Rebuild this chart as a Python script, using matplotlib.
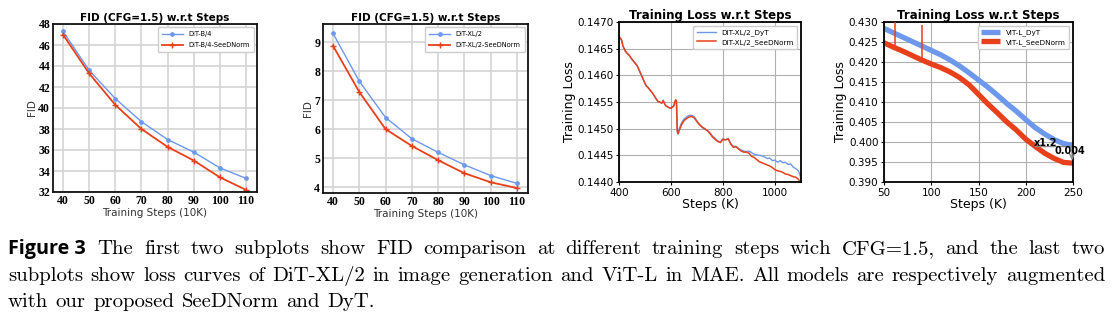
import matplotlib
matplotlib.use('Agg')
import matplotlib.pyplot as plt

# ---- data ----
steps_fid = [40, 50, 60, 70, 80, 90, 100, 110]
fid_b4 = [47.3, 43.6, 40.9, 38.7, 37.0, 35.8, 34.3, 33.3]
fid_b4_seed = [47.0, 43.3, 40.3, 38.0, 36.3, 35.0, 33.4, 32.2]
fid_xl2 = [9.3, 7.65, 6.4, 5.67, 5.2, 4.77, 4.4, 4.13]
fid_xl2_seed = [8.87, 7.28, 6.0, 5.42, 4.93, 4.48, 4.17, 3.97]

# DiT-XL/2 training loss
steps_dit = [400, 405, 410, 415, 420, 425, 430, 440, 450, 460, 470, 480, 490, 500, 505, 510,
             520, 530, 540, 550, 560, 565, 570, 575, 580, 590, 600, 605, 610, 615, 618, 621,
             624, 627, 632, 640, 650, 660, 670, 680, 690, 700, 710, 720, 730, 740, 750, 760,
             770, 775, 780, 790, 800, 810, 820, 830, 840, 850, 860, 870, 880, 890, 900, 910,
             920, 930, 940, 950, 960, 970, 980, 990, 1000, 1010, 1020, 1030, 1040, 1050, 1060,
             1070, 1080, 1090, 1095, 1100]
loss_dit_seed = [0.14672, 0.14670, 0.14666, 0.14655, 0.14650, 0.14645, 0.14642, 0.14637,
                 0.14630, 0.14624, 0.14618, 0.14607, 0.14596, 0.14585, 0.14580, 0.14578,
                 0.14572, 0.14566, 0.14558, 0.14551, 0.14549, 0.14548, 0.14553, 0.14547,
                 0.14543, 0.14540, 0.14538, 0.14541, 0.14542, 0.14550, 0.14554, 0.14552,
                 0.14495, 0.14490, 0.14497, 0.14507, 0.14515, 0.14519, 0.14522, 0.14523,
                 0.14520, 0.14513, 0.14507, 0.14503, 0.14500, 0.14496, 0.14491, 0.14484,
                 0.14480, 0.14478, 0.14476, 0.14474, 0.14480, 0.14479, 0.14481, 0.14471,
                 0.14465, 0.14466, 0.14462, 0.14458, 0.14456, 0.14456, 0.14454, 0.14448,
                 0.14446, 0.14442, 0.14438, 0.14436, 0.14434, 0.14432, 0.14430, 0.14427,
                 0.14423, 0.14421, 0.14420, 0.14418, 0.14415, 0.14414, 0.14412, 0.14410,
                 0.14409, 0.14405, 0.14402, 0.14399]
loss_dit_dyt = [0.14672, 0.14670, 0.14666, 0.14655, 0.14650, 0.14645, 0.14642, 0.14637,
                0.14630, 0.14624, 0.14618, 0.14607, 0.14596, 0.14585, 0.14580, 0.14578,
                0.14572, 0.14566, 0.14558, 0.14551, 0.14549, 0.14548, 0.14553, 0.14547,
                0.14543, 0.14540, 0.14538, 0.14541, 0.14542, 0.14550, 0.14554, 0.14552,
                0.14497, 0.14493, 0.14500, 0.14510, 0.14518, 0.14522, 0.14525, 0.14525,
                0.14522, 0.14514, 0.14508, 0.14502, 0.14499, 0.14497, 0.14492, 0.14486,
                0.14482, 0.14479, 0.14477, 0.14475, 0.14481, 0.14479, 0.14482, 0.14472,
                0.14467, 0.14467, 0.14463, 0.14460, 0.14458, 0.14457, 0.14458, 0.14455,
                0.14452, 0.14451, 0.14450, 0.14449, 0.14447, 0.14444, 0.14445, 0.14440,
                0.14441, 0.14437, 0.14440, 0.14436, 0.14437, 0.14433, 0.14434, 0.14428,
                0.14425, 0.14421, 0.14415, 0.14406]

# ViT-L (MAE) training loss
steps_vit = [50, 60, 70, 80, 90, 100, 110, 120, 130, 140, 150, 160, 170, 180, 190, 200,
             210, 220, 230, 240, 250]
loss_vit_dyt = [0.4284, 0.4273, 0.4262, 0.4251, 0.4240, 0.4229, 0.4218, 0.4205, 0.4190,
                0.4173, 0.4155, 0.4137, 0.4117, 0.4096, 0.4077, 0.4056, 0.4036, 0.4020,
                0.4006, 0.3996, 0.3991]
loss_vit_seed = [0.4248, 0.4237, 0.4227, 0.4216, 0.4205, 0.4195, 0.4186, 0.4175, 0.4161,
                 0.4143, 0.4119, 0.4095, 0.4073, 0.4050, 0.4030, 0.4007, 0.3989, 0.3972,
                 0.3959, 0.3949, 0.3947]
spike_steps = [62, 90]
spike_low = [0.4235, 0.4203]
spike_high = [0.4310, 0.4293]

caption_lines = [
    "The first two subplots show FID comparison at different training steps wich CFG=1.5, and the last two",
    "subplots show loss curves of DiT-XL/2 in image generation and ViT-L in MAE. All models are respectively augmented",
    "with our proposed SeeDNorm and DyT.",
]

BLUE = '#6d98ec'
RED = '#e8401a'
W, H = 1114, 328

fig = plt.figure(figsize=(W / 100, H / 100), dpi=100)


def rect(l, t, r, b):
    return [l / W, 1 - b / H, (r - l) / W, (b - t) / H]


def fid_panel(box, base, seed, names, ylim, yticks):
    ax = fig.add_axes(box)
    ax.plot(steps_fid, base, color=BLUE, marker='o', ms=2.4, lw=1.0, label=names[0])
    ax.plot(steps_fid, seed, color=RED, marker='+', ms=5, mew=1.0, lw=1.3, label=names[1])
    ax.set_xlim(36.2, 114.2)
    ax.set_ylim(ylim)
    ax.set_xticks(steps_fid)
    ax.set_yticks(yticks)
    ax.grid(True, color='#d4d4d4', lw=1.2)
    ax.set_axisbelow(True)
    for s in ax.spines.values():
        s.set_color('#111111')
        s.set_linewidth(1.3)
    ax.tick_params(length=0, pad=2)
    for lab in ax.get_xticklabels() + ax.get_yticklabels():
        lab.set_fontfamily('Liberation Serif')
        lab.set_fontweight('bold')
        lab.set_fontsize(8.5)
    ax.set_xlabel('Training Steps (10K)', fontsize=7.5, labelpad=1, color='#333333')
    ax.set_ylabel('FID', fontsize=7.5, labelpad=1, color='#333333')
    ax.set_title('FID (CFG=1.5) w.r.t Steps', fontsize=7.5, fontweight='bold', pad=2)
    ax.legend(loc='upper right', fontsize=4.8, handlelength=3.2, borderpad=0.6,
              labelspacing=0.7, framealpha=1, edgecolor='#cccccc', fancybox=True)
    return ax


fid_panel(rect(53, 24, 257, 192), fid_b4, fid_b4_seed, ['DiT-B/4', 'DiT-B/4-SeeDNorm'],
          (32, 48), range(32, 49, 2))
fid_panel(rect(323, 24, 528, 193), fid_xl2, fid_xl2_seed, ['DiT-XL/2', 'DiT-XL/2-SeeDNorm'],
          (3.8, 9.62), range(4, 10))


def loss_panel(box):
    ax = fig.add_axes(box)
    ax.grid(True, color='#b0b0b0', lw=0.8)
    ax.set_axisbelow(True)
    for s in ax.spines.values():
        s.set_linewidth(1.3)
    ax.tick_params(labelsize=7.5, length=2.5, pad=1.5)
    ax.set_xlabel('Steps (K)', fontsize=9, labelpad=0)
    ax.set_ylabel('Training Loss', fontsize=9, labelpad=1)
    ax.set_title('Training Loss w.r.t Steps', fontsize=8.5, fontweight='bold', pad=2)
    return ax


ax3 = loss_panel(rect(619, 22, 801, 182))
ax3.plot(steps_dit, loss_dit_dyt, color=BLUE, lw=1.0, label='DiT-XL/2_DyT')
ax3.plot(steps_dit, loss_dit_seed, color=RED, lw=1.1, label='DiT-XL/2_SeeDNorm')
ax3.set_xlim(400, 1100)
ax3.set_ylim(0.1440, 0.1470)
ax3.set_xticks([400, 600, 800, 1000])
ax3.set_yticks([0.1440, 0.1445, 0.1450, 0.1455, 0.1460, 0.1465, 0.1470])
ax3.yaxis.set_major_formatter(matplotlib.ticker.FormatStrFormatter('%.4f'))
ax3.legend(loc='upper right', fontsize=5.2, handlelength=2.6, borderpad=0.5,
           labelspacing=0.4, framealpha=1, fancybox=True)

ax4 = loss_panel(rect(884, 22, 1073, 182))
ax4.plot(steps_vit, loss_vit_dyt, color=BLUE, lw=3.8, label='ViT-L_DyT', solid_capstyle='butt')
ax4.plot(steps_vit, loss_vit_seed, color=RED, lw=3.8, label='ViT-L_SeeDNorm', solid_capstyle='butt')
ax4.vlines(spike_steps, spike_low, spike_high, color=RED, lw=1.1, zorder=3)
ax4.set_xlim(50, 250)
ax4.set_ylim(0.390, 0.430)
ax4.set_xticks([50, 100, 150, 200, 250])
ax4.set_yticks([0.390, 0.395, 0.400, 0.405, 0.410, 0.415, 0.420, 0.425, 0.430])
ax4.yaxis.set_major_formatter(matplotlib.ticker.FormatStrFormatter('%.3f'))
ax4.hlines(loss_vit_dyt[-1], 209, 250, color='#888888', lw=1.0)
ax4.annotate('', xy=(249, loss_vit_seed[-1]), xytext=(249, loss_vit_dyt[-1]),
             arrowprops=dict(arrowstyle='->', color='#888888', lw=1.0))
ax4.text(221, 0.3998, 'x1.2', fontsize=7, fontweight='bold', ha='center', va='center')
ax4.text(247, 0.3977, '0.004', fontsize=7, fontweight='bold', ha='center', va='center')
ax4.legend(loc='upper right', fontsize=5.2, handlelength=2.6, borderpad=0.5,
           labelspacing=0.4, framealpha=1, fancybox=True)

# ---- caption, justified word by word ----
serif = ['cmr10', 'DejaVu Serif']
r = fig.canvas.get_renderer()
x_left, x_right = 8, 1105
baselines = [254, 281, 307]

# pick the size at which the longest line fits with normal spaces
probe = fig.text(0, 0, caption_lines[1].replace(' ', ''), fontsize=10, family=serif)
w10 = probe.get_window_extent(r).width
probe.remove()
n_sp = caption_lines[1].count(' ')
cap_size = (x_right - x_left) / (w10 / 10 + n_sp * 0.36 * 100 / 72)

head = fig.text(x_left / W, 1 - baselines[0] / H, 'Figure 3', fontsize=cap_size * 0.95,
                fontweight='bold', family=['Open Sans', 'DejaVu Sans'], va='baseline')
head_w = head.get_window_extent(r).width

for i, line in enumerate(caption_lines):
    words = line.split(' ')
    texts = [fig.text(0, 1 - baselines[i] / H, w, fontsize=cap_size, family=serif,
                      va='baseline') for w in words]
    widths = [t.get_window_extent(r).width for t in texts]
    start = x_left + (head_w + 0.8 * cap_size if i == 0 else 0)
    if i < len(caption_lines) - 1:
        gap = (x_right - start - sum(widths)) / (len(words) - 1)
    else:
        gap = cap_size * 0.36 * 100 / 72
    x = start
    for t, w in zip(texts, widths):
        t.set_x(x / W)
        x += w + gap

fig.savefig('out.png', dpi=100)
